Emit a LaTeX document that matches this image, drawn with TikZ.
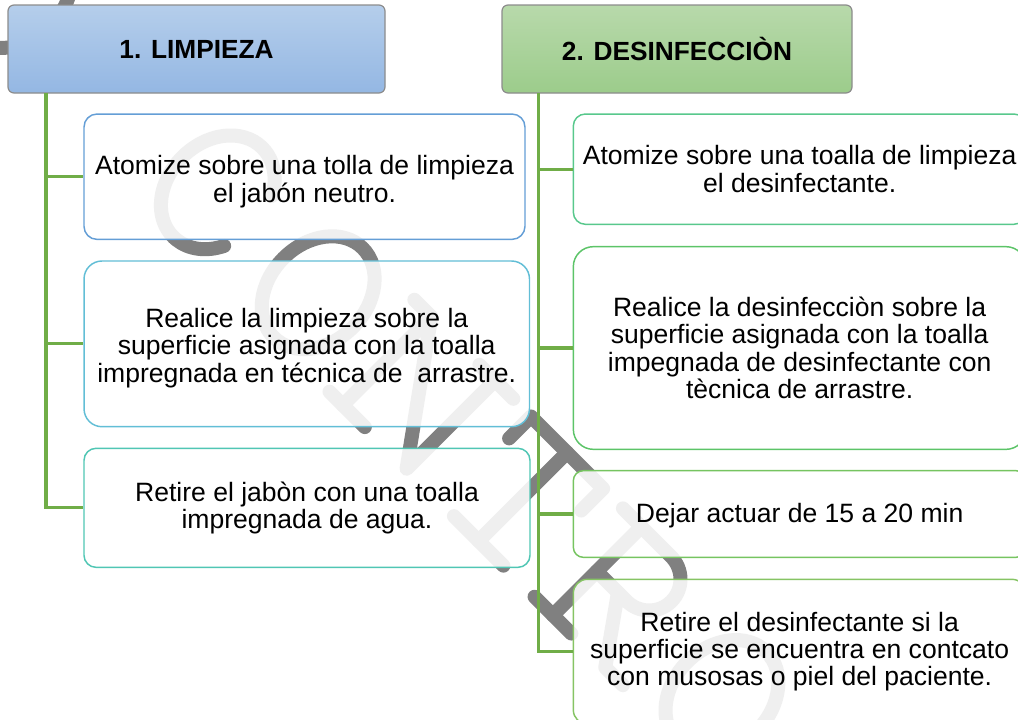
\documentclass[tikz,border=0pt]{standalone}
\usepackage{fontspec}
\setmainfont{Liberation Sans}
\definecolor{wmgray}{RGB}{128,128,128}
\definecolor{lgreen}{RGB}{112,173,71}
\definecolor{tgray}{RGB}{140,140,140}
\definecolor{tatop}{RGB}{181,206,235}
\definecolor{tabot}{RGB}{148,183,227}
\definecolor{tbtop}{RGB}{184,217,171}
\definecolor{tbbot}{RGB}{156,204,139}
\definecolor{cA}{RGB}{100,158,214}
\definecolor{cB}{RGB}{98,190,214}
\definecolor{cC}{RGB}{80,198,180}
\definecolor{cRa}{RGB}{88,200,140}
\definecolor{cRb}{RGB}{92,196,104}
\definecolor{cRc}{RGB}{118,196,96}
\definecolor{cRd}{RGB}{134,196,100}
\begin{document}
\begin{tikzpicture}[x=0.75pt,y=-0.75pt,
  wm/.style={draw=wmgray, line width=10.5pt, line cap=round, line join=round},
  conn/.style={draw=lgreen, line width=2.3pt},
  titlebox/.style={draw=tgray, line width=0.9pt, rounded corners=4.5pt, inner sep=0pt,
    minimum height=66pt, font=\fontsize{19.7pt}{21pt}\selectfont\bfseries},
  stepbox/.style={fill=white, fill opacity=0.875, text opacity=1, line width=1.1pt,
    inner sep=0pt, align=center, font=\fontsize{19.9pt}{20.6pt}\selectfont},
]
\useasboundingbox (0,0) rectangle (1018,719);
\clip (0,0) rectangle (1018,719);

% watermark (letters along a 45 degree line)
\begin{scope}[x={(0.5303pt,-0.5303pt)}, y={(0.5303pt,0.5303pt)}]
  \draw[wm] (5,17) ellipse [x radius=49, y radius=63];
  \draw[wm] (330.96,54.14) arc[start angle=35, end angle=328, x radius=50, y radius=63];
  \draw[wm] (432,18) ellipse [x radius=49, y radius=63];
  % N
  \draw[wm] (529,-44) -- (529,81) -- (619,-44) -- (619,81);
  \draw[wm] (510,-44) -- (560,-44);
  \draw[wm] (505,81) -- (529,81);
  \draw[wm] (597,81) -- (645,81);
  % T
  \draw[wm] (670,50) -- (670,81) -- (772,81) -- (772,50);
  \draw[wm] (721,81) -- (721,-44);
  \draw[wm] (686,-44) -- (756,-44);
  % R
  \draw[wm] (800,81) -- (868,81) arc[start angle=90, end angle=-90, x radius=32, y radius=31.5] -- (826,18);
  \draw[wm] (826,81) -- (826,-44);
  \draw[wm] (800,-44) -- (852,-44);
  \draw[wm] (856,18) -- (900,-44) -- (925,-44);
  % O
  \draw[wm] (1003,18) ellipse [x radius=49, y radius=63];
\end{scope}

% titles
\node[titlebox, top color=tatop, bottom color=tabot, minimum width=282.75pt] (T1) at (196.5,49) {1. LIMPIEZA};
\node[titlebox, top color=tbtop, bottom color=tbbot, minimum width=262.5pt] (T2) at (677,49) {2. DESINFECCIÒN};

% left column
\node[stepbox, draw=cA, rounded corners=9.75pt, minimum width=330.75pt, minimum height=94pt] (A) at (304.5,176.7)
  {\rule{0pt}{22pt}Atomize sobre una tolla de limpieza\\el jabón neutro.};
\node[stepbox, draw=cB, rounded corners=13.5pt, minimum width=334.1pt, minimum height=124.3pt] (B) at (306.75,343.85)
  {\rule{0pt}{20.5pt}Realice la limpieza sobre la\\superficie asignada con la toalla\\impregnada en técnica de\ \ arrastre.};
\node[stepbox, draw=cC, rounded corners=9pt, minimum width=334.5pt, minimum height=89.25pt] (C) at (307,507.8)
  {Retire el jabòn con una toalla\\impregnada de agua.};

% right column
\node[stepbox, draw=cRa, rounded corners=9pt, minimum width=339.5pt, minimum height=82.7pt] (R1) at (799.65,169.15)
  {Atomize sobre una toalla de limpieza\\el desinfectante.};
\node[stepbox, draw=cRb, rounded corners=15pt, minimum width=339.5pt, minimum height=152pt] (R2) at (799.65,348)
  {Realice la desinfecciòn sobre la\\superficie asignada con la toalla\\impegnada de desinfectante con\\tècnica de arrastre.};
\node[stepbox, draw=cRc, rounded corners=7.5pt, minimum width=339.5pt, minimum height=65pt] (R3) at (799.65,514)
  {\rule{0pt}{17pt}Dejar actuar de 15 a 20 min};
\node[stepbox, draw=cRd, rounded corners=10.5pt, minimum width=339.5pt, minimum height=108.5pt] (R4) at (799.65,651.65)
  {Retire el desinfectante si la\\superficie se encuentra en contcato\\con musosas o piel del paciente.};

% connectors
\coordinate (s1) at (46,93);
\coordinate (s2) at (538.3,93);
\draw[conn] (s1) |- (A.west);
\draw[conn] (s1) |- (B.west);
\draw[conn] (s1) |- (C.west);
\draw[conn] (s2) |- (R1.west);
\draw[conn] (s2) |- (R2.west);
\draw[conn] (s2) |- (R3.west);
\draw[conn] (s2) |- (R4.west);
\end{tikzpicture}
\end{document}
